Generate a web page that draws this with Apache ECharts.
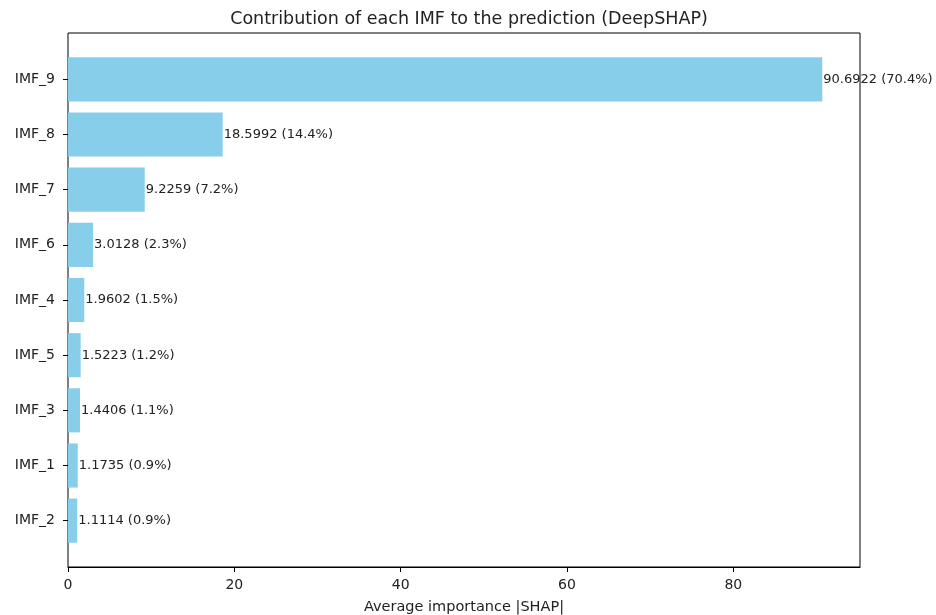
<!DOCTYPE html>
<html>
<head>
<meta charset="utf-8">
<script src="https://cdn.jsdelivr.net/npm/echarts@6/dist/echarts.min.js"></script>
<style>
html,body{margin:0;padding:0;background:#fff;}
#chart{width:936px;height:615px;}
</style>
</head>
<body>
<div id="chart"></div>
<script>
// categories from bottom to top
const categories = ['IMF_2','IMF_1','IMF_3','IMF_5','IMF_4','IMF_6','IMF_7','IMF_8','IMF_9'];
const values = [1.1114, 1.1735, 1.4406, 1.5223, 1.9602, 3.0128, 9.2259, 18.5992, 90.6922];
const xTicks = [0, 20, 40, 60, 80];

const total = values.reduce((a, b) => a + b, 0);
const xMax = Math.max(...values) * 1.05;
const FONT = 'DejaVu Sans';
const TXT = '#222';

const plotLeft = 68, plotTop = 33, plotW = 792, plotH = 534;
const unit = plotH / (categories.length - 1 + 0.8 + 0.1 * (categories.length - 1 + 0.8));
const bandTop = plotTop + (plotH - categories.length * unit) / 2;

const chart = echarts.init(document.getElementById('chart'), null, {renderer: 'canvas'});
chart.setOption({
  animation: false,
  backgroundColor: '#fff',
  title: {
    text: 'Contribution of each IMF to the prediction (DeepSHAP)',
    left: plotLeft + plotW / 2, top: 5, textAlign: 'center',
    textStyle: {fontFamily: FONT, fontSize: 17.5, fontWeight: 'normal', color: TXT}
  },
  grid: [
    {left: plotLeft, top: plotTop, width: plotW, height: plotH, show: true,
     outerBoundsMode: 'none', containLabel: false,
     borderColor: '#000', borderWidth: 1, backgroundColor: 'transparent'},
    {left: plotLeft, top: bandTop, width: plotW, height: categories.length * unit,
     outerBoundsMode: 'none', containLabel: false}
  ],
  xAxis: [
    {gridIndex: 0, type: 'value', min: 0, max: xMax, interval: 20,
     splitLine: {show: false},
     axisLine: {show: true, lineStyle: {color: '#000', width: 1}},
     axisTick: {show: true, length: 5, lineStyle: {color: '#000'}, customValues: xTicks},
     axisLabel: {color: TXT, fontFamily: FONT, fontSize: 14, margin: 11, customValues: xTicks},
     name: 'Average importance |SHAP|', nameLocation: 'middle', nameGap: 33,
     nameTextStyle: {color: TXT, fontFamily: FONT, fontSize: 14.5}},
    {gridIndex: 1, type: 'value', min: 0, max: xMax, show: false}
  ],
  yAxis: [
    {gridIndex: 0, type: 'value', min: 0, max: 1, show: false},
    {gridIndex: 1, type: 'category', data: categories,
     axisLine: {show: false},
     axisTick: {show: true, alignWithLabel: true, length: 5, lineStyle: {color: '#000'}},
     axisLabel: {color: TXT, fontFamily: FONT, fontSize: 14, margin: 13}}
  ],
  series: [{
    type: 'bar', xAxisIndex: 1, yAxisIndex: 1,
    data: values, barWidth: '80%',
    itemStyle: {color: '#87CEEB'},
    label: {
      show: true, position: 'right', distance: 1,
      color: TXT, fontFamily: FONT, fontSize: 13,
      formatter: p => p.value.toFixed(4) + ' (' + (p.value / total * 100).toFixed(1) + '%)'
    }
  }]
});
</script>
</body>
</html>
